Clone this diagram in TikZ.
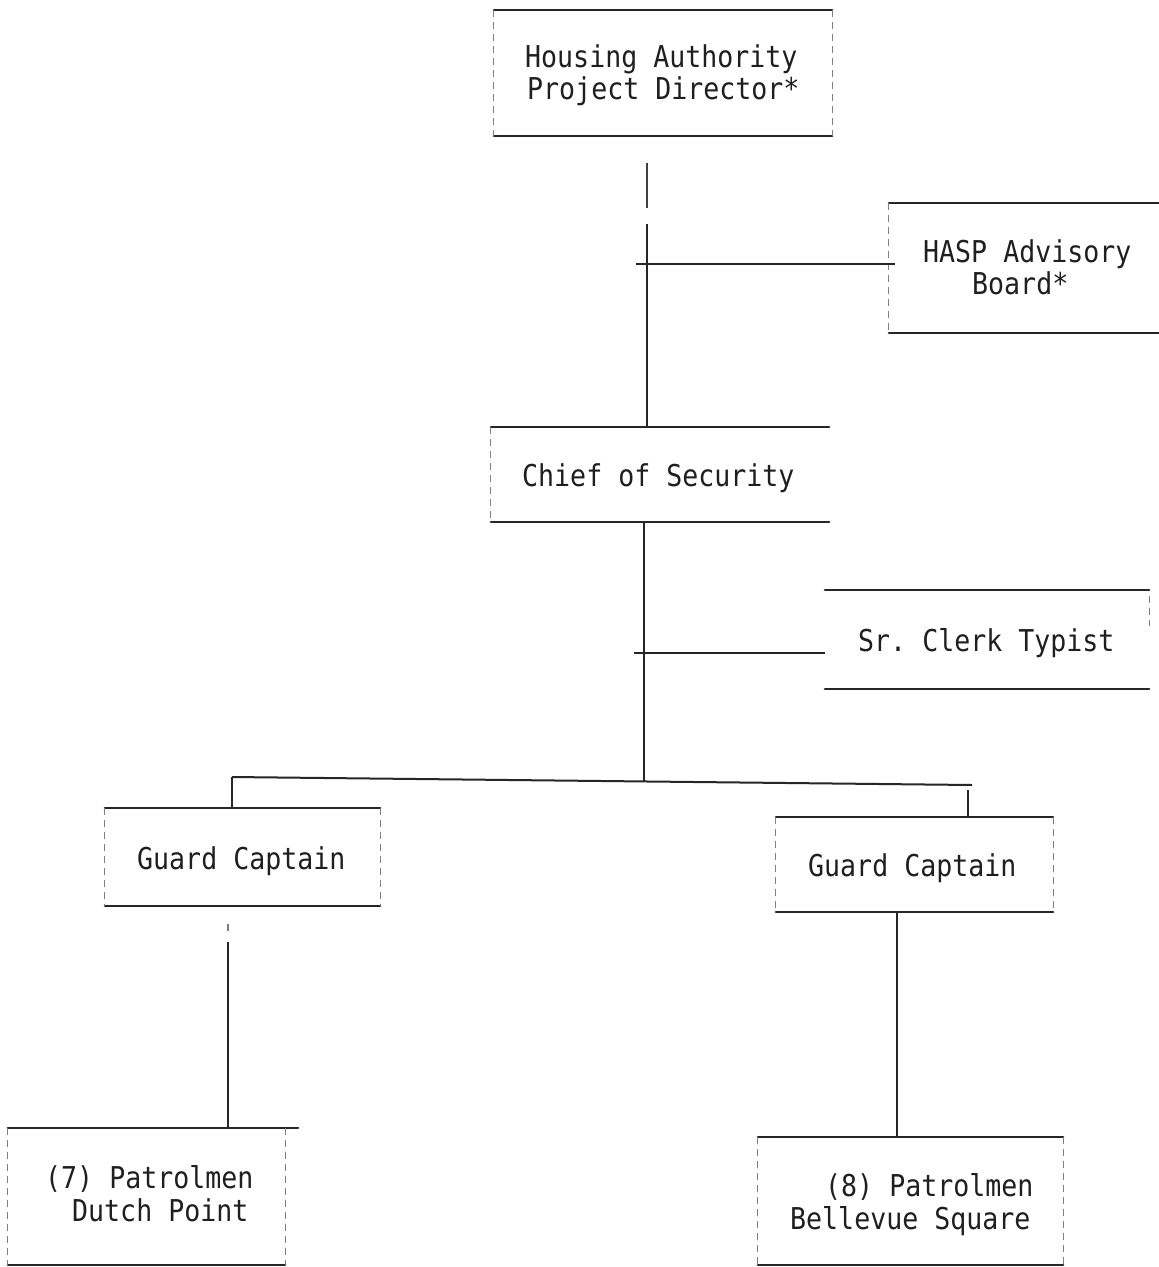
\documentclass[tikz,border=0pt]{standalone}
\usepackage{fontspec}
\setmonofont{DejaVu Sans Mono}
\begin{document}
\begin{tikzpicture}[x=1pt,y=-1pt,
  boxarea/.style={draw=none,rectangle,inner sep=0pt},
  hline/.style={line width=2.2pt,draw=black!85,line cap=round},
  vside/.style={line width=1.1pt,draw=black!50,dash pattern=on 7pt off 5pt},
  conn/.style={line width=2pt,draw=black!85},
  connlight/.style={line width=2pt,draw=black!75,dash pattern=on 45pt off 14pt},
  lbl/.style={font=\ttfamily\fontsize{26.6}{32}\selectfont,inner sep=0pt,text=black!88,anchor=base west}]
\useasboundingbox[fill=white] (0,0) rectangle (1159,1267);
\newcommand{\vs}[1]{\scalebox{1}[1.13]{#1}}

% boxes
\node[boxarea,minimum width=338pt,minimum height=125pt] (dir) at (663,73) {};
\node[boxarea,minimum width=270pt,minimum height=130pt] (hasp) at (1024,268) {};
\node[boxarea,minimum width=338pt,minimum height=95pt] (chief) at (660,474.5) {};
\node[boxarea,minimum width=324pt,minimum height=99pt] (clerk) at (987,639.5) {};
\node[boxarea,minimum width=275pt,minimum height=97pt] (gl) at (242.5,857) {};
\node[boxarea,minimum width=277pt,minimum height=95pt] (gr) at (914.5,864.5) {};
\node[boxarea,minimum width=277pt,minimum height=137pt] (pl) at (146.5,1196.5) {};
\node[boxarea,minimum width=305pt,minimum height=128pt] (pr) at (910.5,1201) {};

% borders
\foreach \b in {dir,hasp,chief,clerk,gl,gr,pr}{
  \draw[hline] (\b.north west) -- (\b.north east);
  \draw[hline] (\b.south west) -- (\b.south east);
}
\draw[hline] (pl.north west) -- ([xshift=13pt]pl.north east);
\draw[hline] (pl.south west) -- (pl.south east);
\foreach \b in {dir,hasp,chief,gl,gr,pl,pr}{
  \draw[vside] (\b.north west) -- (\b.south west);
}
\foreach \b in {dir,gl,gr,pl,pr}{
  \draw[vside] (\b.north east) -- (\b.south east);
}
\draw[vside] ([yshift=-6pt]clerk.north east) -- ([yshift=-36pt]clerk.north east);

% texts
\node[lbl] (t1a) at (525,67) {\vs{Housing Authority}};
\node[lbl] (t1b) at (527,99) {\vs{Project Director*}};
\node[lbl] (t2a) at (923,262) {\vs{HASP Advisory}};
\node[lbl] (t2b) at (972,294) {\vs{Board*}};
\node[lbl] (t3) at (522,486) {\vs{Chief of Security}};
\node[lbl] (t4) at (858,651) {\vs{Sr. Clerk Typist}};
\node[lbl] (t5) at (137,869) {\vs{Guard Captain}};
\node[lbl] (t6) at (808,876) {\vs{Guard Captain}};
\node[lbl] (t7a) at (45,1188) {\vs{(7) Patrolmen}};
\node[lbl] (t7b) at (72,1221) {\vs{Dutch Point}};
\node[lbl] (t8a) at (825,1196) {\vs{(8) Patrolmen}};
\node[lbl] (t8b) at (790,1229) {\vs{Bellevue Square}};

% connectors
\coordinate (j1) at (647,264);
\coordinate (j2) at (644,653);
\coordinate (bl) at (232,777);
\coordinate (br) at (972,785);
\coordinate (bm) at (644,781);
\coordinate (dlx) at (228,0);
\coordinate (drx) at (897,0);
\coordinate (rdx) at (968,0);

\draw[connlight] ([yshift=-27pt]j1 |- dir.south) -- ([yshift=-86pt]j1 |- dir.south);
\draw[conn] ([yshift=-88pt]j1 |- dir.south) -- (j1) -- (j1 |- chief.north);
\draw[conn] ([xshift=-11pt]j1) -- ([xshift=6pt]j1 -| hasp.west);
\draw[conn] (j2 |- chief.south) -- (j2) -- (bm);
\draw[conn] ([xshift=-10pt]j2) -- (j2 -| clerk.west);
\draw[conn] (bl) -- (br);
\draw[conn] (bl) -- (bl |- gl.north);
\draw[conn] (rdx |- br) ++(0,-5pt) -- (rdx |- gr.north);
\draw[vside] (dlx |- gl.south) ++(0,-18pt) -- ++(0,-10pt);
\draw[conn] ([yshift=-36pt]dlx |- gl.south) -- (dlx |- pl.north);
\draw[conn] (drx |- gr.south) -- (drx |- pr.north);
\end{tikzpicture}
\end{document}
